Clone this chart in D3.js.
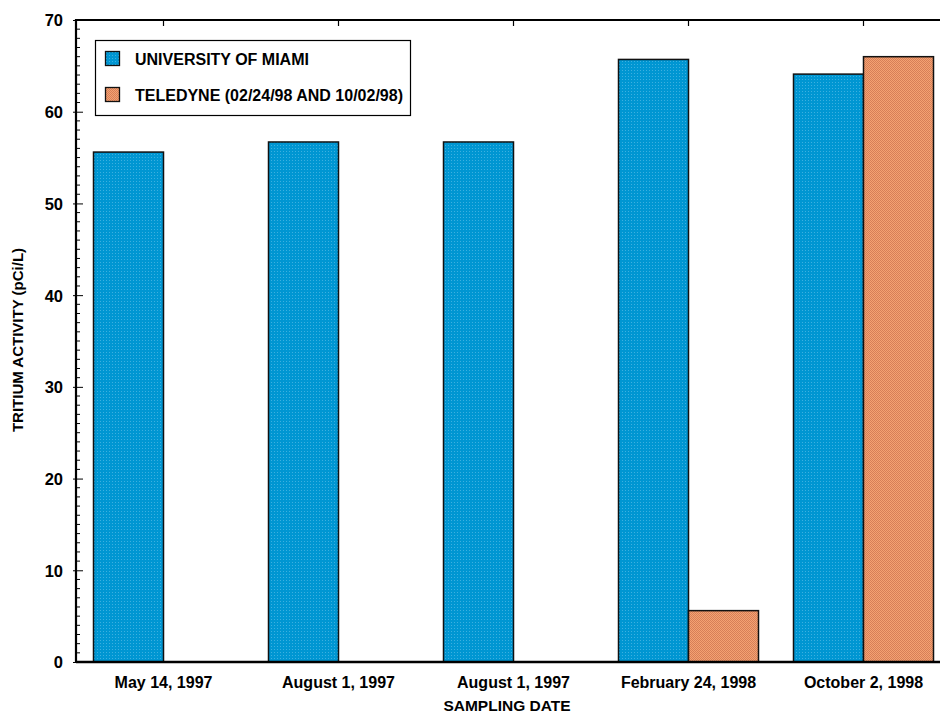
<!DOCTYPE html>
<html><head><meta charset="utf-8">
<script src="https://cdn.jsdelivr.net/npm/d3@7"></script>
<style>body{margin:0;background:#fff}svg{display:block;font-family:"Liberation Sans",Arial,sans-serif;font-weight:bold}</style>
</head><body>
<svg id="c" width="940" height="715"></svg>
<script>
const categories = ["May 14, 1997","August 1, 1997","August 1, 1997","February 24, 1998","October 2, 1998"];
const miami = [55.6, 56.7, 56.7, 65.7, 64.1];
const teledyne = [null, null, null, 5.6, 66.0];
const seriesNames = ["UNIVERSITY OF MIAMI","TELEDYNE (02/24/98 AND 10/02/98)"];
const yTicks = [0,10,20,30,40,50,60,70];

const svg = d3.select("#c");
const defs = svg.append("defs");
function pat(id, base, dot){
  const p = defs.append("pattern").attr("id",id).attr("width",3).attr("height",3).attr("patternUnits","userSpaceOnUse");
  p.append("rect").attr("width",3).attr("height",3).attr("fill",base);
  p.append("rect").attr("x",1).attr("y",1).attr("width",1).attr("height",1).attr("fill",dot);
}
pat("pb","#0096d2","#3cb0e0");
const po = defs.append("pattern").attr("id","po").attr("width",2).attr("height",2).attr("patternUnits","userSpaceOnUse");
po.append("rect").attr("width",2).attr("height",2).attr("fill","#f4a272");
po.append("rect").attr("width",1).attr("height",1).attr("fill","#d67f58");
po.append("rect").attr("x",1).attr("y",1).attr("width",1).attr("height",1).attr("fill","#d67f58");

const x0 = 76, x1 = 951, yTop = 20, yBot = 662;
const x = d3.scaleBand().domain(d3.range(categories.length)).range([x0,x1]).paddingInner(0.2).paddingOuter(0.1);
const y = d3.scaleLinear().domain([0,70]).range([yBot,yTop]);
const xs = d3.scaleBand().domain([0,1]).range([0,x.bandwidth()]);

const series = [miami, teledyne];
const fills = ["url(#pb)","url(#po)"];
series.forEach((vals,si)=>{
  svg.append("g").selectAll("rect").data(vals.map((v,i)=>({v,i})).filter(d=>d.v!=null)).join("rect")
    .attr("x",d=>x(d.i)+xs(si)).attr("width",xs.bandwidth())
    .attr("y",d=>y(d.v)).attr("height",d=>y(0)-y(d.v))
    .attr("fill",fills[si]).attr("stroke","#111").attr("stroke-width",1.5);
});

// frame lines
svg.append("line").attr("x1",x0).attr("x2",940).attr("y1",yTop).attr("y2",yTop).attr("stroke","#000").attr("stroke-width",2);
svg.append("line").attr("x1",x0).attr("x2",940).attr("y1",yBot).attr("y2",yBot).attr("stroke","#000").attr("stroke-width",2.5);
svg.append("line").attr("x1",x0).attr("x2",x0).attr("y1",yTop-1).attr("y2",yBot+1).attr("stroke","#000").attr("stroke-width",2.2);

// y minor ticks
const minor = d3.range(0,71).filter(v=>v%10!==0);
svg.append("g").selectAll("line").data(minor).join("line")
  .attr("x1",x0).attr("x2",x0+4).attr("y1",d=>y(d)).attr("y2",d=>y(d)).attr("stroke","#000").attr("stroke-width",1);
// y major
const ya = svg.append("g").attr("transform",`translate(${x0},0)`).call(d3.axisLeft(y).tickValues(yTicks).tickSize(3).tickSizeOuter(0));
ya.select(".domain").remove();
ya.selectAll(".tick line").attr("x2",7).attr("x1",-3).attr("stroke","#000").attr("stroke-width",1);
ya.selectAll(".tick text").attr("x",-13).attr("dy","0.36em").attr("font-size",16.5).attr("font-family","Liberation Sans, Arial").attr("font-weight","bold").attr("fill","#000");

// top ticks
svg.append("g").selectAll("line").data(d3.range(categories.length)).join("line")
  .attr("x1",d=>x(d)+x.bandwidth()/2).attr("x2",d=>x(d)+x.bandwidth()/2).attr("y1",yTop).attr("y2",yTop+6).attr("stroke","#000").attr("stroke-width",1.2);

// x labels
const xa = svg.append("g").attr("transform",`translate(0,${yBot})`).call(d3.axisBottom(x).tickFormat(i=>categories[i]).tickSize(0));
xa.select(".domain").remove();
xa.selectAll(".tick text").attr("y",26).attr("dy",0).attr("font-size",16).attr("font-family","Liberation Sans, Arial").attr("font-weight","bold").attr("fill","#000");

svg.append("text").attr("x",507).attr("y",711).attr("text-anchor","middle").attr("font-size",15.5).text("SAMPLING DATE");
svg.append("text").attr("transform","translate(23,340) rotate(-90)").attr("text-anchor","middle").attr("font-size",15).text("TRITIUM ACTIVITY (pCi/L)");

// legend
const lg = svg.append("g");
lg.append("rect").attr("x",95.5).attr("y",40.5).attr("width",315).attr("height",75).attr("fill","#fff").attr("stroke","#000").attr("stroke-width",1.2);
seriesNames.forEach((n,i)=>{
  const yy = 51.5 + i*36;
  lg.append("rect").attr("x",105.5).attr("y",yy).attr("width",14).attr("height",14).attr("fill",fills[i]).attr("stroke","#111").attr("stroke-width",1.3);
  lg.append("text").attr("x",135).attr("y",yy+13).attr("font-size",16).text(n);
});
</script>
</body></html>
